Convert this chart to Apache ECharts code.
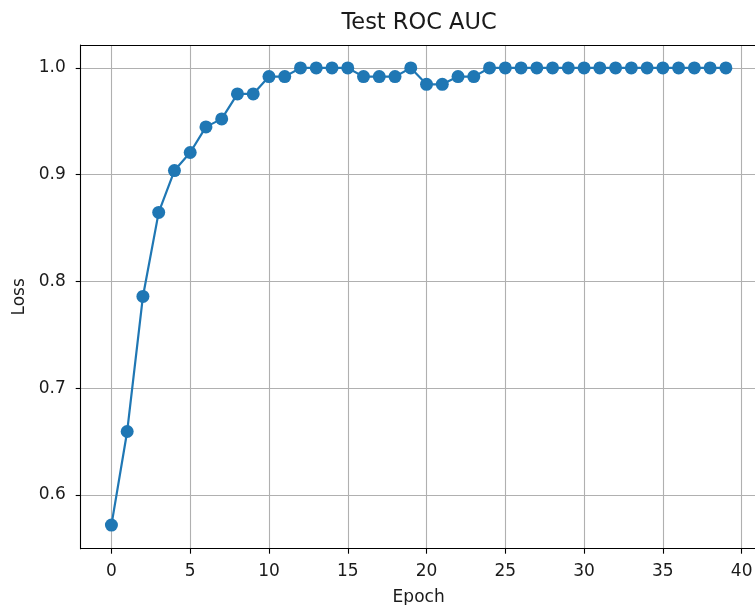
<!DOCTYPE html>
<html>
<head>
<meta charset="utf-8">
<script src="https://cdn.jsdelivr.net/npm/echarts@6/dist/echarts.min.js"></script>
<style>html,body{margin:0;padding:0;background:#fff}#c{width:755px;height:605px}</style>
</head>
<body>
<div id="c"></div>
<script>
const epochs = [0,1,2,3,4,5,6,7,8,9,10,11,12,13,14,15,16,17,18,19,20,21,22,23,24,25,26,27,28,29,30,31,32,33,34,35,36,37,38,39];
const aucValues = [0.5718,0.6595,0.7860,0.8647,0.9039,0.9208,0.9448,0.9523,0.9757,0.9757,
  0.9919,0.9919,1.0,1.0,1.0,1.0,0.9919,0.9919,0.9919,1.0,
  0.9847,0.9847,0.9919,0.9919,1.0,1.0,1.0,1.0,1.0,1.0,
  1.0,1.0,1.0,1.0,1.0,1.0,1.0,1.0,1.0,1.0];
const xTicks = [0,5,10,15,20,25,30,35,40];
const yTicks = [0.6,0.7,0.8,0.9,1.0];
const titleText = 'Test ROC AUC';
const xLabel = 'Epoch';
const yLabel = 'Loss';

const font = 'DejaVu Sans';
const txt = '#1a1a1a';
const chart = echarts.init(document.getElementById('c'), null, {renderer: 'canvas'});
const dataPts = epochs.map((e, i) => [e, aucValues[i]]);
chart.setOption({
  animation: false,
  backgroundColor: '#fff',
  title: {
    text: titleText, left: 414, top: 7, textAlign: 'center',
    textStyle: {fontFamily: font, fontSize: 22.5, fontWeight: 'normal', color: txt}
  },
  grid: {left: 80.7, top: 45, width: 675.9, height: 503.7, containLabel: false, outerBoundsMode: 'none'},
  xAxis: [{
    type: 'value', min: -1.95, max: 40.95,
    name: xLabel, nameLocation: 'middle', nameGap: 40,
    nameTextStyle: {fontFamily: font, fontSize: 17, color: txt},
    axisLine: {show: true, onZero: false, lineStyle: {color: '#000', width: 1.1}},
    axisTick: {show: true, length: 5, customValues: xTicks, lineStyle: {color: '#000', width: 1.1}},
    axisLabel: {customValues: xTicks, fontFamily: font, fontSize: 17, color: txt, margin: 14},
    splitLine: {show: true, lineStyle: {color: '#b0b0b0', width: 1.1}}
  }, {
    type: 'value', position: 'top', min: -1.95, max: 40.95,
    axisLine: {show: true, onZero: false, lineStyle: {color: '#000', width: 1.1}},
    axisTick: {show: false}, axisLabel: {show: false}, splitLine: {show: false}
  }],
  yAxis: {
    type: 'value', min: 0.5497, max: 1.0215,
    name: yLabel, nameLocation: 'middle', nameGap: 52, nameRotate: 90,
    nameTextStyle: {fontFamily: font, fontSize: 17, color: txt},
    axisLine: {show: true, onZero: false, lineStyle: {color: '#000', width: 1.1}},
    axisTick: {show: true, length: 5, customValues: yTicks, lineStyle: {color: '#000', width: 1.1}},
    axisLabel: {customValues: yTicks, fontFamily: font, fontSize: 17, color: txt, margin: 15,
      formatter: v => v.toFixed(1)},
    splitLine: {show: true, lineStyle: {color: '#b0b0b0', width: 1.1}}
  },
  series: [{
    type: 'line', data: dataPts, xAxisIndex: 0,
    symbol: 'circle', symbolSize: 13,
    lineStyle: {color: '#1f77b4', width: 2.2},
    itemStyle: {color: '#1f77b4'},
    clip: false
  }]
});
</script>
</body>
</html>
